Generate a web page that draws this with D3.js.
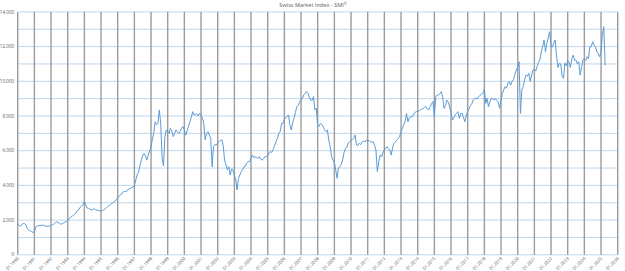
<!DOCTYPE html>
<html>
<head>
<meta charset="utf-8">
<title>Swiss Market Index - SMI</title>
<script src="https://d3js.org/d3.v7.min.js"></script>
<style>
  body { margin: 0; background: #ffffff; }
  text { font-family: "Open Sans", "Liberation Sans", sans-serif; fill: #595959; }
</style>
</head>
<body>
<div id="chart"></div>
<script>
// monthly closing levels, starting January 1990
var startMonth = "1990-01";
var smiMonthly = [
  1780, 1700, 1660, 1720, 1815, 1800, 1720, 1500, 1430, 1380, 1330, 1290,   // 1990
  1320, 1600, 1660, 1680, 1700, 1680, 1720, 1690, 1660, 1650, 1640, 1660,   // 1991
  1700, 1740, 1760, 1830, 1910, 1860, 1820, 1760, 1790, 1840, 1880, 1920,   // 1992
  1990, 2080, 2150, 2200, 2280, 2320, 2420, 2560, 2600, 2740, 2800, 2900,   // 1993
  3080, 2880, 2700, 2680, 2640, 2580, 2610, 2650, 2600, 2570, 2560, 2540,   // 1994
  2530, 2560, 2580, 2650, 2720, 2780, 2850, 2900, 2970, 3000, 3100, 3170,   // 1995
  3280, 3380, 3450, 3500, 3640, 3660, 3620, 3740, 3780, 3830, 3860, 3890,   // 1996
  4000, 4300, 4600, 4750, 5100, 5460, 5700, 5850, 5700, 5460, 5750, 6000,   // 1997
  6200, 6700, 7000, 7670, 7500, 7580, 8350, 7580, 5600, 5120, 6810, 7200,   // 1998
  7100, 7000, 7290, 7150, 6810, 7000, 7200, 7100, 7000, 7100, 7300, 7390,   // 1999
  7200, 6900, 7150, 7390, 7670, 7900, 8250, 8060, 8100, 8120, 8000, 8160,   // 2000
  8050, 7870, 7580, 6620, 7000, 7100, 6900, 6720, 5080, 6230, 6350, 6330,   // 2001
  6450, 6520, 6600, 6620, 6300, 5460, 5200, 4890, 5080, 4600, 4950, 4890,   // 2002
  4600, 4310, 3735, 4410, 4600, 4790, 4900, 5080, 5100, 5300, 5370, 5370,   // 2003
  5550, 5750, 5600, 5650, 5600, 5560, 5650, 5500, 5460, 5550, 5650, 5650,   // 2004
  5700, 5900, 5940, 5900, 6080, 6300, 6520, 6700, 7000, 7100, 7580, 7580,   // 2005
  7800, 7900, 7960, 8060, 7500, 7190, 7600, 7870, 8200, 8540, 8600, 8800,   // 2006
  8920, 9000, 9210, 9300, 9400, 9310, 9100, 8920, 8900, 9120, 8350, 8450,   // 2007
  7390, 7400, 7580, 7500, 7390, 7200, 7100, 7200, 6600, 6230, 5650, 5460,   // 2008
  5300, 4890, 4410, 5000, 5080, 5200, 5460, 5900, 6140, 6200, 6430, 6520,   // 2009
  6600, 6650, 6720, 6910, 6330, 6300, 6430, 6350, 6520, 6550, 6500, 6620,   // 2010
  6550, 6600, 6520, 6500, 6520, 6300, 6040, 4790, 5370, 5750, 5650, 5900,   // 2011
  6040, 6150, 6230, 6100, 6040, 5750, 6200, 6430, 6500, 6620, 6700, 6810,   // 2012
  7100, 7300, 7480, 7700, 8150, 7670, 7900, 7960, 7950, 8060, 8200, 8250,   // 2013
  8250, 8300, 8350, 8400, 8440, 8500, 8540, 8400, 8350, 8540, 8700, 8830,   // 2014
  7960, 9110, 9200, 9210, 9300, 9400, 9110, 8440, 8600, 8920, 8800, 8540,   // 2015
  8200, 7770, 7900, 8060, 8150, 8250, 7870, 8150, 8150, 7900, 7670, 8060,   // 2016
  8250, 8440, 8600, 8700, 8920, 9000, 9020, 9000, 9110, 9200, 9250, 9310,   // 2017
  9540, 8730, 9020, 8540, 8800, 9020, 9000, 8920, 9000, 8900, 8800, 8440,   // 2018
  8920, 9310, 9500, 9690, 9600, 9880, 9980, 9780, 10000, 10100, 10400, 10650, // 2019
  10800, 11130, 8150, 9500, 9690, 10100, 10360, 10300, 10460, 10000, 10360, 10650, // 2020
  10700, 10600, 10840, 11100, 11230, 11700, 11990, 12380, 11700, 12190, 12500, 12860, // 2021
  12000, 11990, 12200, 12380, 11500, 10800, 11040, 11000, 10300, 10170, 11040, 10900, // 2022
  11200, 11100, 10800, 11300, 11510, 11200, 11230, 11000, 11130, 10360, 10800, 11230, // 2023
  11300, 11200, 11420, 11300, 11990, 12000, 12280, 12090, 12000, 11700, 11600, 11420, // 2024
  11700, 12760, 13150, 10930                                                  // 2025
];
var yTicks = [0, 2000, 4000, 6000, 8000, 10000, 12000, 14000];
var firstYear = 1990, lastYear = 2026;

var W = 625, H = 271;
var plotLeft = 17.7, plotRight = 617.7, plotTop = 11.9, plotBottom = 254.8;

var svg = d3.select("#chart").append("svg")
    .attr("width", W)
    .attr("height", H);

var parseMonth = d3.timeParse("%Y-%m");
var start = parseMonth(startMonth);
var data = smiMonthly.map(function (v, i) {
    return { date: d3.timeMonth.offset(start, i), value: v };
});

var x = d3.scaleTime()
    .domain([new Date(firstYear, 0, 1), new Date(lastYear, 0, 1)])
    .range([plotLeft, plotRight]);

var y = d3.scaleLinear()
    .domain([0, 14000])
    .range([plotBottom, plotTop]);

// horizontal gridlines every 1000
svg.append("g")
    .selectAll("line")
    .data(d3.range(0, 14001, 1000))
    .enter()
    .append("line")
    .attr("x1", plotLeft)
    .attr("x2", plotRight)
    .attr("y1", function (d) { return y(d); })
    .attr("y2", function (d) { return y(d); })
    .style("stroke", "#bdd7ee")
    .style("stroke-width", 1);

// vertical gridlines at each January
var years = d3.timeYear.range(new Date(firstYear, 0, 1), new Date(lastYear, 0, 2));
svg.append("g")
    .selectAll("line")
    .data(years)
    .enter()
    .append("line")
    .attr("x1", function (d) { return x(d); })
    .attr("x2", function (d) { return x(d); })
    .attr("y1", plotTop)
    .attr("y2", plotBottom)
    .style("stroke", "#9c9c9c")
    .style("stroke-width", 1.4);

// y axis labels
var fmt = d3.formatLocale({ decimal: ",", thousands: ".", grouping: [3], currency: ["", ""] }).format(",");
svg.append("g")
    .selectAll("text")
    .data(yTicks)
    .enter()
    .append("text")
    .attr("x", plotLeft - 3.5)
    .attr("y", function (d) { return y(d); })
    .attr("dy", "0.35em")
    .attr("text-anchor", "end")
    .style("font-size", "4.6px")
    .text(function (d) { return fmt(d); });

// x axis labels (rotated)
var fmtX = d3.timeFormat("%m.%Y");
svg.append("g")
    .selectAll("text")
    .data(years)
    .enter()
    .append("text")
    .attr("text-anchor", "end")
    .attr("transform", function (d) {
        return "translate(" + (x(d) + 1.5) + "," + (plotBottom + 4) + ") rotate(-45)";
    })
    .style("font-size", "4.4px")
    .text(function (d) { return fmtX(d); });

// the index line
var line = d3.line()
    .x(function (d) { return x(d.date); })
    .y(function (d) { return y(d.value); });

svg.append("path")
    .datum(data)
    .attr("d", line)
    .style("fill", "none")
    .style("stroke", "#5b9bd5")
    .style("stroke-width", 1)
    .style("stroke-linejoin", "round");

// title with superscript registered mark
var title = svg.append("text")
    .attr("x", 313)
    .attr("y", 7)
    .attr("text-anchor", "middle")
    .style("font-size", "5.6px");
title.append("tspan").text("Swiss Market Index - SMI");
title.append("tspan")
    .attr("dy", "-1.6")
    .style("font-size", "3.5px")
    .text("\u00ae");
</script>
</body>
</html>
